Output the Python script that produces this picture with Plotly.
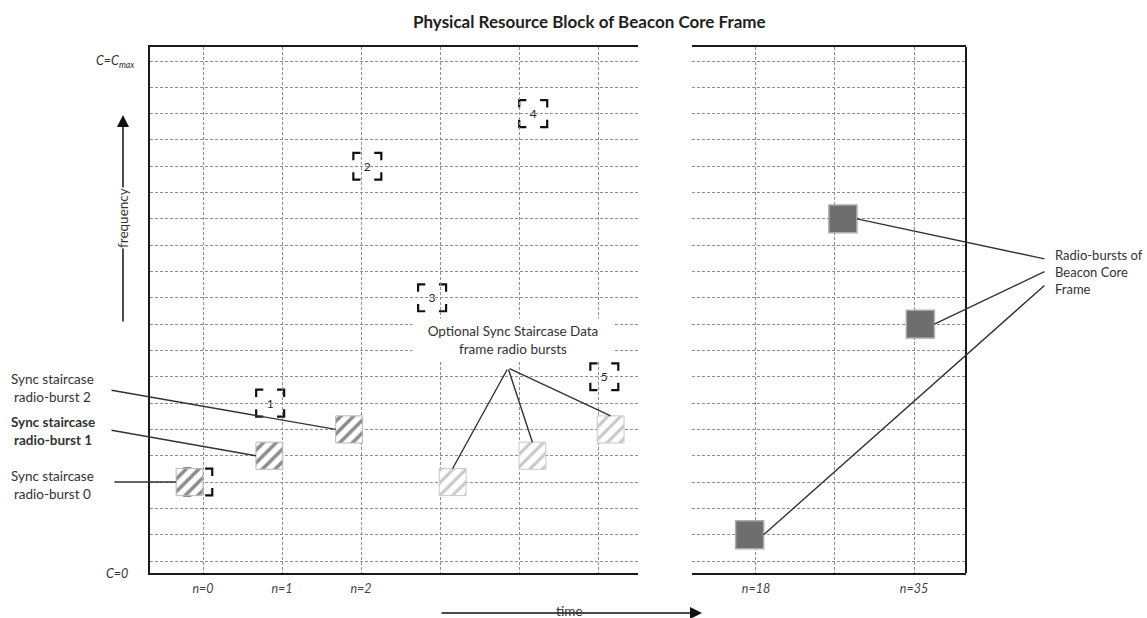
import plotly.graph_objects as go

# ---------------- data ----------------
# time-slot (column) and frequency-channel (row) of every radio burst
sync_cols = [-0.17, 0.84, 1.85]
sync_rows = [3, 4, 5]
opt_cols = [3.16, 4.17, 5.16]
opt_rows = [3, 4, 5]
core_cols = [6.92, 8.10, 9.08]
core_rows = [1, 13, 9]
# numbered candidate positions
box_cols = [-0.06, 0.85, 2.08, 2.90, 4.18, 5.08]
box_rows = [3, 6, 15, 10, 17, 7]
box_labels = ["0", "1", "2", "3", "4", "5"]
# axes
left_slots = [0, 1, 2, 3, 4, 5]
left_tick_text = ["n=0", "n=1", "n=2", "", "", ""]
right_slots = [7, 8, 9]
right_tick_text = ["n=18", "", "n=35"]
freq_rows = list(range(20))
sync_labels = ["Sync staircase<br>radio-burst 0",
               "<b>Sync staircase</b><br><b>radio-burst 1</b>",
               "Sync staircase<br>radio-burst 2"]
title_text = "Physical Resource Block of Beacon Core Frame"
opt_text = "Optional Sync Staircase Data<br>frame radio bursts"
core_text = "Radio-bursts of<br>Beacon Core<br>Frame"

# ---------------- style ----------------
FONT = "Lato"
BW, BH = 0.34, 1.03      # burst size (slot units, row units)
CW, CH = 0.355, 1.06     # core burst size
GRID = "#8f8f8f"
LINE = "#1a1a1a"

fig = go.Figure()

fig.add_trace(go.Bar(
    x=sync_cols, y=[BH] * len(sync_cols), base=[r - BH / 2 for r in sync_rows],
    width=BW, xaxis="x", yaxis="y", hoverinfo="skip",
    marker=dict(color="white", line=dict(color="#b8b8b8", width=1),
                pattern=dict(shape="/", fgcolor="#1a1a1a", bgcolor="white",
                             size=9, solidity=0.4))))
fig.add_trace(go.Bar(
    x=opt_cols, y=[BH] * len(opt_cols), base=[r - BH / 2 for r in opt_rows],
    width=BW, xaxis="x", yaxis="y", hoverinfo="skip",
    marker=dict(color="white", line=dict(color="#c8c8c8", width=1),
                pattern=dict(shape="/", fgcolor="#939393", bgcolor="white",
                             size=9, solidity=0.35))))
fig.add_trace(go.Bar(
    x=core_cols, y=[CH] * len(core_cols), base=[r - CH / 2 for r in core_rows],
    width=CW, xaxis="x2", yaxis="y", hoverinfo="skip",
    marker=dict(color="#6e6e6e", line=dict(color="#ababab", width=1.5))))

shapes = []
# corner brackets around numbered positions (built from the arrays)
hx, hy, arx, ary = 0.177, 0.51, 0.09, 0.28
for cx, cy, lab in zip(box_cols, box_rows, box_labels):
    x0, x1, y0, y1 = cx - hx, cx + hx, cy - hy, cy + hy
    path = (f"M{x0+arx},{y1} L{x0},{y1} L{x0},{y1-ary} "
            f"M{x1-arx},{y1} L{x1},{y1} L{x1},{y1-ary} "
            f"M{x0},{y0+ary} L{x0},{y0} L{x0+arx},{y0} "
            f"M{x1},{y0+ary} L{x1},{y0} L{x1-arx},{y0}")
    shapes.append(dict(type="path", path=path, xref="x", yref="y", layer="below",
                       line=dict(color="#111", width=2.2)))
    shapes.append(dict(type="rect", x0=x0, x1=x1, y0=y0, y1=y1, xref="x", yref="y",
                       layer="below", line=dict(width=0), fillcolor="rgba(0,0,0,0)",
                       label=dict(text=lab, font=dict(family=FONT, size=12, color="#222"),
                                  textposition="middle center")))
# right border of right panel
shapes.append(dict(type="line", xref="x2 domain", yref="y domain", x0=1, x1=1, y0=0, y1=1,
                   line=dict(color=LINE, width=2)))

ann = []
# labels for sync bursts on the left
sync_label_y = [0.167, 0.270, 0.352]
sync_tail_cols = [-1.14, -1.177, -1.177]
sync_tail_rows = [3.0, 4.98, 6.5]
for i in range(3):
    ann.append(dict(xref="paper", yref="paper", x=-0.119, y=sync_label_y[i],
                    xanchor="center", yanchor="middle",
                    text=sync_labels[i], showarrow=False, align="center",
                    font=dict(family=FONT, size=13.5, color="#333")))
    ann.append(dict(xref="x", yref="y", x=sync_cols[i] - BW / 2, y=sync_rows[i],
                    axref="x", ayref="y", ax=sync_tail_cols[i], ay=sync_tail_rows[i],
                    text="", showarrow=True, arrowhead=0, arrowwidth=1.4,
                    arrowcolor="#333", standoff=0, startstandoff=0))
# optional bursts callout
for cx, r in zip(opt_cols, opt_rows):
    ann.append(dict(xref="x", yref="y", x=cx, y=r + BH / 2,
                    axref="x", ayref="y", ax=3.861, ay=7.333,
                    text="", showarrow=True, arrowhead=0, arrowwidth=1.4,
                    arrowcolor="#333", standoff=0))
ann.append(dict(xref="paper", yref="paper", x=0.445, y=0.443, text=opt_text,
                xanchor="center", yanchor="middle",
                showarrow=False, align="center", bgcolor="white", borderpad=4, width=192,
                font=dict(family=FONT, size=13.5, color="#333")))
# beacon core callout
core_tail_rows = [10.52, 11.47, 11.02]
for cx, r, tr in zip(core_cols, core_rows, core_tail_rows):
    ann.append(dict(xref="x2", yref="y", x=cx + CW / 2, y=r,
                    axref="x2", ayref="y", ax=10.67, ay=tr,
                    text="", showarrow=True, arrowhead=0, arrowwidth=1.4,
                    arrowcolor="#333", standoff=0))
ann.append(dict(xref="paper", yref="paper", x=1.1066, y=0.572, text=core_text,
                xanchor="left", yanchor="middle", showarrow=False, align="left",
                font=dict(family=FONT, size=13, color="#333")))
# title
ann.append(dict(xref="paper", yref="paper", x=0.538, y=1.049, text=f"<b>{title_text}</b>",
                xanchor="center", yanchor="middle",
                showarrow=False, font=dict(family=FONT, size=17, color="#222")))
# frequency arrow
ann.append(dict(xref="paper", yref="paper", x=-0.0331, y=0.8707, ax=0, ay=208, text="",
                showarrow=True, arrowhead=2, arrowsize=1.6, arrowwidth=1.5,
                arrowcolor="#111", standoff=0))
ann.append(dict(xref="paper", yref="paper", x=-0.0331, y=0.675, text="frequency",
                xanchor="center", yanchor="middle",
                textangle=-90, showarrow=False, bgcolor="white", borderpad=0,
                font=dict(family=FONT, size=13.5, color="#333")))
# time arrow
ann.append(dict(xref="paper", yref="paper", x=0.6765, y=-0.076, ax=-262, ay=0, text="",
                showarrow=True, arrowhead=2, arrowsize=1.6, arrowwidth=1.5,
                arrowcolor="#111", standoff=0))
ann.append(dict(xref="paper", yref="paper", x=0.5147, y=-0.073, text="time",
                xanchor="center", yanchor="middle",
                showarrow=False, font=dict(family=FONT, size=13.5, color="#333")))
# C labels
ann.append(dict(xref="paper", yref="y", x=-0.016, y=19, xanchor="right", yanchor="middle",
                text="<i>C=C<sub>max</sub></i>", showarrow=False,
                font=dict(family=FONT, size=12.5, color="#333")))
ann.append(dict(xref="paper", yref="y", x=-0.0245, y=-0.456, xanchor="right",
                yanchor="middle", text="<i>C=0</i>", showarrow=False,
                font=dict(family=FONT, size=12.5, color="#333")))

axis_common = dict(showgrid=True, gridcolor=GRID, griddash="3px,2px", gridwidth=1,
                   showline=True, linecolor=LINE, linewidth=2, mirror=True,
                   zeroline=False, ticks="", fixedrange=True, ticklabelstandoff=3,
                   tickfont=dict(family=FONT, size=12.5, color="#444"))

fig.update_layout(
    width=1147, height=618,
    margin=dict(l=150, r=181, t=47, b=45),
    paper_bgcolor="white", plot_bgcolor="white",
    showlegend=False, barmode="overlay",
    xaxis=dict(domain=[0, 0.598], range=[-0.671, 5.506], tickvals=left_slots,
               ticktext=[f"<i>{t}</i>" for t in left_tick_text], anchor="y",
               **axis_common),
    xaxis2=dict(domain=[0.6642, 1], range=[6.19, 9.658], tickvals=right_slots,
                ticktext=[f"<i>{t}</i>" for t in right_tick_text], anchor="y",
                **axis_common),
    yaxis=dict(domain=[0, 1], range=[-0.456, 19.532], tickvals=freq_rows,
               showticklabels=False, showgrid=True, gridcolor=GRID, griddash="3px,2px",
               gridwidth=1, showline=True, linecolor=LINE, linewidth=2, mirror=False,
               zeroline=False, ticks="", fixedrange=True),
    shapes=shapes, annotations=ann,
)

fig.write_html("out.html", config={"displayModeBar": False},
               post_script="document.body.style.margin='0';"
                           "document.body.style.overflow='hidden';")
